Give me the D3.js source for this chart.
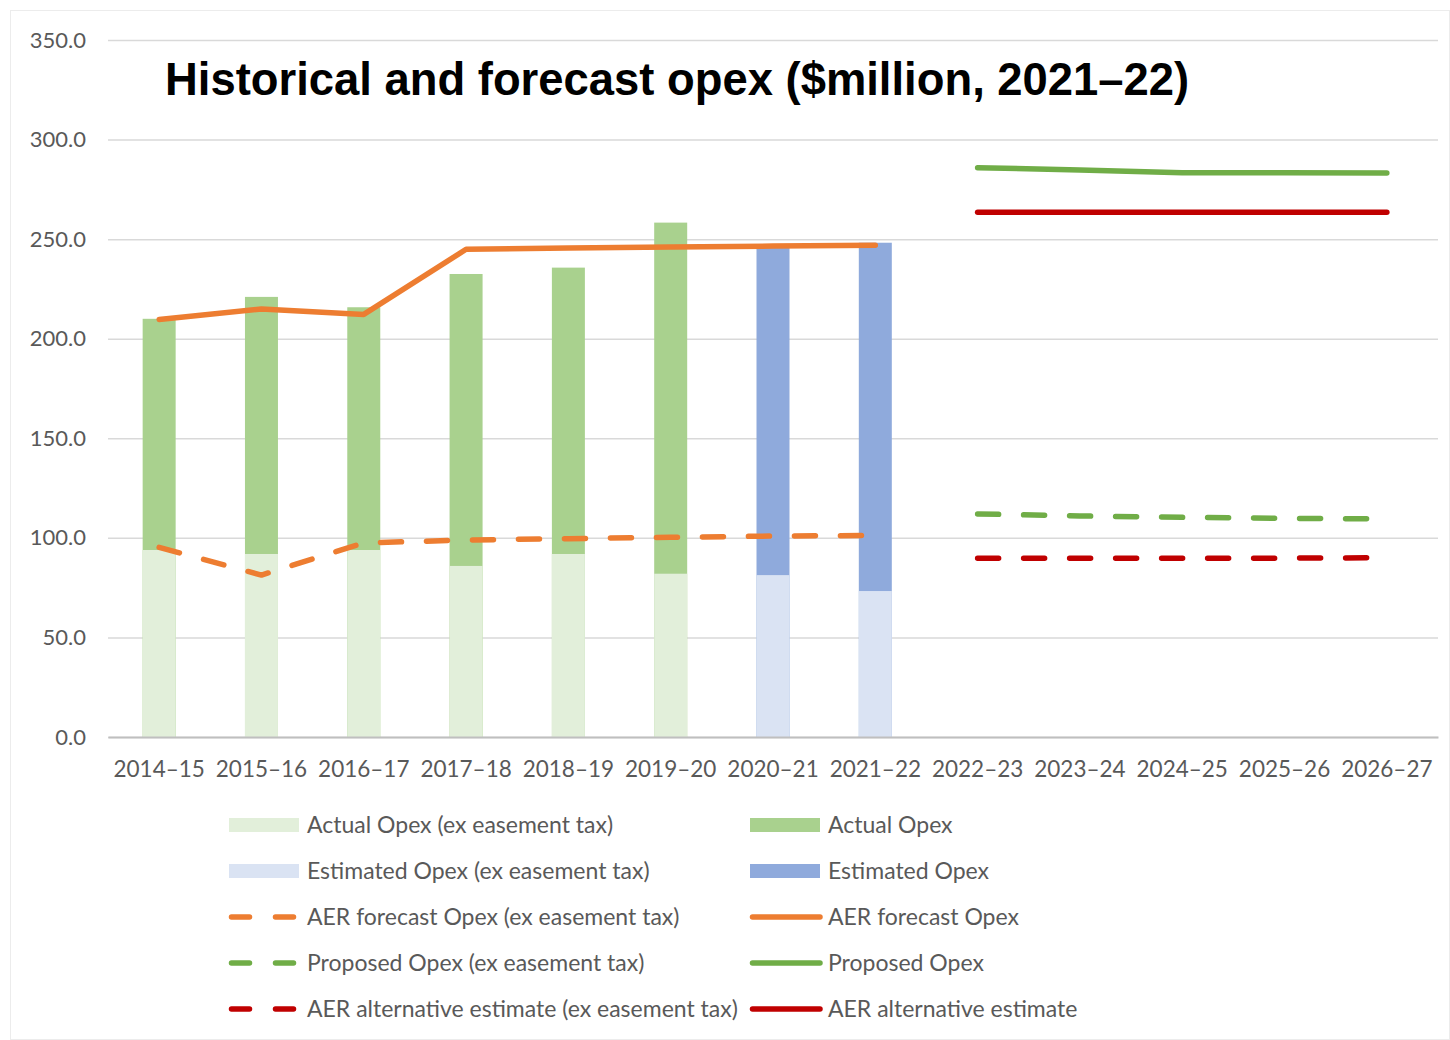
<!DOCTYPE html>
<html>
<head>
<meta charset="utf-8">
<script src="https://cdn.jsdelivr.net/npm/d3@7"></script>
<style>
  body { margin: 0; background: #fff; }
  svg { display: block; }
</style>
</head>
<body>
<div id="canvas"></div>
<script>
// categories and values
const years = ["2014–15", "2015–16", "2016–17", "2017–18", "2018–19", "2019–20", "2020–21",
  "2021–22", "2022–23", "2023–24", "2024–25", "2025–26", "2026–27"];
const actualYears = years.slice(0, 6);
const estimatedYears = years.slice(6, 8);
const histYears = years.slice(0, 8);
const fcYears = years.slice(8);

const actualOpex = [210, 221, 215.8, 232.5, 235.7, 258.3];
const actualOpexEx = [93.9, 91.9, 93.9, 85.9, 91.9, 82];
const estimatedOpex = [246.2, 248.2];
const estimatedOpexEx = [81.3, 73.3];
const aerForecast = [209.7, 214.9, 212.2, 244.9, 245.5, 246, 246.5, 246.9];
const aerForecastEx = [95.2, 81.3, 97.5, 98.9, 99.6, 100.3, 100.9, 101.2];
const proposed = [285.9, 284.7, 283.4, 283.3, 283.2];
const proposedEx = [112, 111, 110.3, 109.8, 109.5];
const aerAlt = [263.5, 263.5, 263.5, 263.5, 263.5];
const aerAltEx = [89.8, 89.8, 89.8, 89.8, 90];
const yTicks = [0, 50, 100, 150, 200, 250, 300, 350];

const width = 1450, height = 1040;
const svg = d3.select("#canvas").append("svg")
  .attr("width", width).attr("height", height);

svg.append("rect")
  .attr("x", 10.5).attr("y", 10.5)
  .attr("width", width - 11).attr("height", height - 11)
  .attr("fill", "none").attr("stroke", "#d9d9d9").attr("stroke-dasharray", "1,1");

const x = d3.scaleBand().domain(years).range([108, 1438]).padding(0);
const cx = d => x(d) + x.bandwidth() / 2;
const barW = 33;

const y = d3.scaleLinear().domain([0, 350]).range([737, 40]);

const font = "Lato, 'Open Sans', sans-serif";
const txt = "#595959";

// gridlines
const grid = svg.append("g")
  .attr("transform", "translate(108,0)")
  .call(d3.axisLeft(y).tickValues(yTicks).tickSize(-1330).tickFormat(""));
grid.select(".domain").remove();
grid.selectAll(".tick line").attr("stroke", "#d9d9d9").attr("stroke-width", 1.5);

// y labels
const yAxis = svg.append("g")
  .attr("transform", "translate(86,0)")
  .call(d3.axisLeft(y).tickValues(yTicks).tickSize(0).tickPadding(0).tickFormat(d3.format(".1f")));
yAxis.select(".domain").remove();
yAxis.selectAll("text").attr("font-family", font).attr("font-size", 22).attr("fill", txt);

// bars: full value behind, ex-easement-tax portion on top
function bars(cats, full, ex, dark, light) {
  svg.append("g").selectAll("rect").data(cats).join("rect")
    .attr("x", d => cx(d) - barW / 2).attr("width", barW)
    .attr("y", (d, i) => y(full[i])).attr("height", (d, i) => y(0) - y(full[i]))
    .attr("fill", dark);
  svg.append("g").selectAll("rect").data(cats).join("rect")
    .attr("x", d => cx(d) - barW / 2).attr("width", barW)
    .attr("y", (d, i) => y(ex[i])).attr("height", (d, i) => y(0) - y(ex[i]))
    .attr("fill", light);
}
bars(actualYears, actualOpex, actualOpexEx, "#a9d18e", "#e2efda");
bars(estimatedYears, estimatedOpex, estimatedOpexEx, "#8faadc", "#dae3f3");

// x axis
const xAxis = svg.append("g")
  .attr("transform", "translate(0,737)")
  .call(d3.axisBottom(x).tickSize(0).tickPadding(24));
xAxis.select(".domain").attr("stroke", "#bfbfbf").attr("stroke-width", 2);
xAxis.selectAll("text").attr("font-family", font).attr("font-size", 22.5).attr("fill", txt);

// lines
const dash = "21,25";
function drawLine(cats, vals, color, dashed) {
  const line = d3.line().x(d => cx(d[0])).y(d => y(d[1]));
  svg.append("path")
    .datum(cats.map((c, i) => [c, vals[i]]))
    .attr("d", line)
    .attr("fill", "none")
    .attr("stroke", color)
    .attr("stroke-width", 5.5)
    .attr("stroke-linecap", "round")
    .attr("stroke-linejoin", "round")
    .attr("stroke-dasharray", dashed ? dash : null);
}
drawLine(histYears, aerForecastEx, "#ed7d31", true);
drawLine(histYears, aerForecast, "#ed7d31", false);
drawLine(fcYears, proposedEx, "#70ad47", true);
drawLine(fcYears, proposed, "#70ad47", false);
drawLine(fcYears, aerAltEx, "#c00000", true);
drawLine(fcYears, aerAlt, "#c00000", false);

// title
svg.append("text")
  .attr("x", 165).attr("y", 95)
  .attr("font-family", "'Liberation Sans', Arial, sans-serif")
  .attr("font-weight", "bold").attr("font-size", 45.4)
  .attr("fill", "#000")
  .text("Historical and forecast opex ($million, 2021–22)");

// legend
const legendItems = [
  { label: "Actual Opex (ex easement tax)", type: "bar", color: "#e2efda" },
  { label: "Actual Opex", type: "bar", color: "#a9d18e" },
  { label: "Estimated Opex (ex easement tax)", type: "bar", color: "#dae3f3" },
  { label: "Estimated Opex", type: "bar", color: "#8faadc" },
  { label: "AER forecast Opex (ex easement tax)", type: "dash", color: "#ed7d31" },
  { label: "AER forecast Opex", type: "line", color: "#ed7d31" },
  { label: "Proposed Opex (ex easement tax)", type: "dash", color: "#70ad47" },
  { label: "Proposed Opex", type: "line", color: "#70ad47" },
  { label: "AER alternative estimate (ex easement tax)", type: "dash", color: "#c00000" },
  { label: "AER alternative estimate", type: "line", color: "#c00000" }
];
const colX = [229, 750];
const legend = svg.append("g");
legendItems.forEach((d, i) => {
  const lx = colX[i % 2];
  const ly = 825 + Math.floor(i / 2) * 46;
  const g = legend.append("g").attr("transform", `translate(${lx},${ly})`);
  if (d.type === "bar") {
    g.append("rect").attr("x", 0).attr("y", -7).attr("width", 70).attr("height", 14).attr("fill", d.color);
  } else {
    g.append("line").attr("x1", 2.5).attr("x2", 70).attr("y1", 0).attr("y2", 0)
      .attr("stroke", d.color).attr("stroke-width", 5.5).attr("stroke-linecap", "round")
      .attr("stroke-dasharray", d.type === "dash" ? "18,26" : null);
  }
  g.append("text").attr("x", 78).attr("y", 0).attr("dy", "0.35em")
    .attr("font-family", font).attr("font-size", 23).attr("fill", txt)
    .text(d.label);
});
</script>
</body>
</html>
